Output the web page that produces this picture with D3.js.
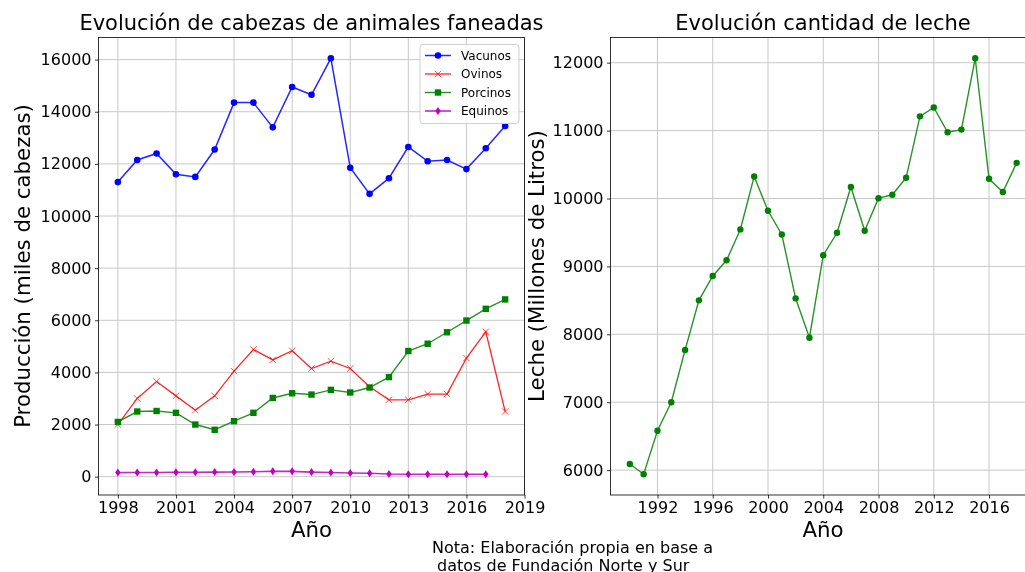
<!DOCTYPE html>
<head>
  <meta charset="utf-8">
  <script src="https://d3js.org/d3.v7.min.js"></script>
  <style>
    body {
      margin:0;position:fixed;top:0;right:0;bottom:0;left:0;
      font-family: "DejaVu Sans", sans-serif;
      background-color: white;
    }
    .tick text {
      font-family: "DejaVu Sans", sans-serif;
      font-size: 16px;
      fill: #000;
    }
    .tick line {
      stroke: #000;
      stroke-width: 0.8;
    }
    .grid line {
      stroke: #c8c8c8;
      stroke-width: 1;
    }
    .spine {
      fill: none;
      stroke: #000;
      stroke-width: 0.8;
    }
  </style>
</head>

<body>
  <script>
    // datos animales faneados (miles de cabezas)
    var anios = [1998,1999,2000,2001,2002,2003,2004,2005,2006,2007,2008,2009,2010,2011,2012,2013,2014,2015,2016,2017,2018];
    var vacunos = [11300,12150,12400,11600,11500,12550,14350,14350,13400,14950,14650,16050,11850,10850,11450,12650,12100,12150,11800,12600,13450];
    var ovinos = [2000,3000,3650,3100,2550,3100,4050,4880,4480,4830,4150,4430,4150,3450,2950,2950,3170,3170,4550,5560,2500];
    var porcinos = [2100,2500,2520,2450,2000,1800,2130,2450,3020,3200,3150,3330,3230,3420,3820,4820,5100,5540,5990,6440,6800];
    var aniosEquinos = [1998,1999,2000,2001,2002,2003,2004,2005,2006,2007,2008,2009,2010,2011,2012,2013,2014,2015,2016,2017];
    var equinos = [160,160,160,170,170,175,180,190,210,205,175,160,140,130,100,95,95,95,95,95];

    // leche (millones de litros)
    var aniosLeche = [1990,1991,1992,1993,1994,1995,1996,1997,1998,1999,2000,2001,2002,2003,2004,2005,2006,2007,2008,2009,2010,2011,2012,2013,2014,2015,2016,2017,2018];
    var leche = [6090,5940,6580,7000,7770,8500,8860,9090,9545,10325,9820,9470,8530,7950,9165,9495,10170,9525,10005,10055,10305,11210,11340,10975,11015,12065,10290,10095,10525];

    var ticksAniosA = [1998,2001,2004,2007,2010,2013,2016,2019];
    var ticksCabezas = [0,2000,4000,6000,8000,10000,12000,14000,16000];
    var ticksAniosL = [1992,1996,2000,2004,2008,2012,2016];
    var ticksLeche = [6000,7000,8000,9000,10000,11000,12000];

    var series = [
      {nombre: "Vacunos", x: anios, y: vacunos, color: "#0000ff", marca: "o", ancho: 1.5},
      {nombre: "Ovinos", x: anios, y: ovinos, color: "#ff0000", marca: "x", ancho: 1.3},
      {nombre: "Porcinos", x: anios, y: porcinos, color: "#008000", marca: "s", ancho: 1.4},
      {nombre: "Equinos", x: aniosEquinos, y: equinos, color: "#bf00bf", marca: "d", ancho: 1.6}
    ];

    var svg = d3.select("body").append("svg")
      .attr("width", 1025)
      .attr("height", 572)

    var yTop = 37.5, yBottom = 495;

    // margen 5% como matplotlib
    function pad(ext) {
      var m = (ext[1] - ext[0]) * 0.05;
      return [ext[0] - m, ext[1] + m];
    }

    function marca(g, tipo, color) {
      if (tipo === "o") {
        g.append("circle").attr("r", 3.3).style("fill", color);
      } else if (tipo === "s") {
        g.append("rect").attr("x", -3.2).attr("y", -3.2).attr("width", 6.4).attr("height", 6.4).style("fill", color);
      } else if (tipo === "x") {
        g.append("path").attr("d", "M-3.2,-3.2L3.2,3.2M-3.2,3.2L3.2,-3.2").style("stroke", color).style("stroke-width", 1).style("opacity", 0.7);
      } else if (tipo === "d") {
        g.append("path").attr("d", "M0,-4L2.7,0L0,4L-2.7,0Z").style("fill", color);
      }
    }

    function panel(x, y, ticksX, ticksY) {
      var g = svg.append("g");
      g.append("g").attr("class", "grid")
        .selectAll("line").data(ticksX.filter(function(d) {return x(d) <= x.range()[1]})).enter().append("line")
        .attr("x1", function(d) {return x(d)}).attr("x2", function(d) {return x(d)})
        .attr("y1", yTop).attr("y2", yBottom)
      g.append("g").attr("class", "grid")
        .selectAll("line").data(ticksY).enter().append("line")
        .attr("x1", x.range()[0]).attr("x2", x.range()[1])
        .attr("y1", function(d) {return y(d)}).attr("y2", function(d) {return y(d)})

      var xAxis = g.append("g")
        .attr("transform", "translate(0," + yBottom + ")")
        .call(d3.axisBottom(x).tickValues(ticksX).tickFormat(d3.format("d")).tickSize(3.5).tickPadding(3.5))
      xAxis.select(".domain").remove()

      var yAxis = g.append("g")
        .attr("transform", "translate(" + x.range()[0] + ",0)")
        .call(d3.axisLeft(y).tickValues(ticksY).tickFormat(d3.format("d")).tickSize(3.5).tickPadding(3.5))
      yAxis.select(".domain").remove()
      return g;
    }

    // ---------- panel izquierdo ----------
    var xA = d3.scaleLinear()
      .domain(pad(d3.extent(anios)))
      .range([98.5, 524.5])

    var todos = vacunos.concat(ovinos, porcinos, equinos);
    var yA = d3.scaleLinear()
      .domain(pad(d3.extent(todos)))
      .range([yBottom, yTop])

    var gA = panel(xA, yA, ticksAniosA, ticksCabezas);

    series.forEach(function(s) {
      var pts = s.x.map(function(a, i) {return [a, s.y[i]]});
      gA.append("path")
        .datum(pts)
        .attr("d", d3.line().x(function(d) {return xA(d[0])}).y(function(d) {return yA(d[1])}))
        .style("fill", "none")
        .style("stroke", s.color)
        .style("stroke-width", s.ancho)
        .style("opacity", 0.85)
      gA.selectAll(".m" + s.nombre).data(pts).enter().append("g")
        .attr("transform", function(d) {return "translate(" + xA(d[0]) + "," + yA(d[1]) + ")"})
        .each(function() {marca(d3.select(this), s.marca, s.color)})
    })

    gA.append("rect").attr("class", "spine")
      .attr("x", 98.5).attr("y", yTop).attr("width", 524.5 - 98.5).attr("height", yBottom - yTop)

    // leyenda
    var ley = gA.append("g")
    ley.append("rect")
      .attr("x", 420).attr("y", 44.5).attr("width", 99).attr("height", 79)
      .attr("rx", 3)
      .style("fill", "white").style("fill-opacity", 0.8)
      .style("stroke", "#d0d0d0").style("stroke-width", 1)
    var item = ley.selectAll(".item").data(series).enter().append("g")
      .attr("transform", function(d, i) {return "translate(0," + (55.5 + i * 18.5) + ")"})
    item.append("line")
      .attr("x1", 425).attr("x2", 451)
      .style("stroke", function(d) {return d.color})
      .style("stroke-width", function(d) {return d.ancho})
      .style("opacity", 0.85)
    item.append("g").attr("transform", "translate(438,0)")
      .each(function(d) {marca(d3.select(this), d.marca, d.color)})
    item.append("text")
      .attr("x", 461).attr("dy", "0.35em")
      .style("font-size", "12px")
      .text(function(d) {return d.nombre})

    svg.append("text")
      .attr("x", 311.5).attr("y", 30)
      .attr("text-anchor", "middle")
      .style("font-size", "21px")
      .text("Evolución de cabezas de animales faneadas")
    svg.append("text")
      .attr("x", 311.5).attr("y", 537)
      .attr("text-anchor", "middle")
      .style("font-size", "21.3px")
      .text("Año")
    svg.append("text")
      .attr("transform", "translate(30,266) rotate(-90)")
      .attr("text-anchor", "middle")
      .style("font-size", "21.3px")
      .text("Producción (miles de cabezas)")

    // ---------- panel derecho ----------
    var xL = d3.scaleLinear()
      .domain(pad(d3.extent(aniosLeche)))
      .range([610.5, 1036])
    var yL = d3.scaleLinear()
      .domain(pad(d3.extent(leche)))
      .range([yBottom, yTop])

    var gL = panel(xL, yL, ticksAniosL, ticksLeche);
    var ptsL = aniosLeche.map(function(a, i) {return [a, leche[i]]});
    gL.append("path")
      .datum(ptsL)
      .attr("d", d3.line().x(function(d) {return xL(d[0])}).y(function(d) {return yL(d[1])}))
      .style("fill", "none")
      .style("stroke", "#008000")
      .style("stroke-width", 1.4)
      .style("opacity", 0.85)
    gL.selectAll(".pl").data(ptsL).enter().append("circle")
      .attr("cx", function(d) {return xL(d[0])})
      .attr("cy", function(d) {return yL(d[1])})
      .attr("r", 3.2)
      .style("fill", "#008000")
    gL.append("rect").attr("class", "spine")
      .attr("x", 610.5).attr("y", yTop).attr("width", 1036 - 610.5).attr("height", yBottom - yTop)

    svg.append("text")
      .attr("x", 823).attr("y", 30)
      .attr("text-anchor", "middle")
      .style("font-size", "21px")
      .text("Evolución cantidad de leche")
    svg.append("text")
      .attr("x", 823).attr("y", 537)
      .attr("text-anchor", "middle")
      .style("font-size", "21.3px")
      .text("Año")
    svg.append("text")
      .attr("transform", "translate(544,266) rotate(-90)")
      .attr("text-anchor", "middle")
      .style("font-size", "21.3px")
      .text("Leche (Millones de Litros)")

    // nota
    var nota = svg.append("text")
      .attr("x", 432)
      .style("font-size", "16px")
      .style("white-space", "pre")
    nota.append("tspan").attr("x", 432).attr("y", 553).text("Nota: Elaboración propia en base a")
    nota.append("tspan").attr("x", 432).attr("y", 571).text(" datos de Fundación Norte y Sur")
  </script>
</body>
